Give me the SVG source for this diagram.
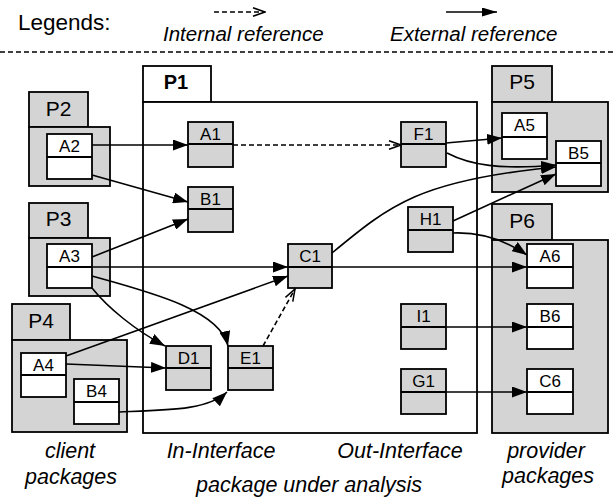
<svg xmlns="http://www.w3.org/2000/svg" width="613" height="499" viewBox="0 0 613 499">
<style>
  .pkg { fill: #d4d4d4; stroke: #000; stroke-width: 1.8; }
  .pkgw { fill: #fff; stroke: #000; stroke-width: 1.8; }
  .cg { fill: #d4d4d4; stroke: #000; stroke-width: 1.8; }
  .cw { fill: #fff; stroke: #000; stroke-width: 1.8; }
  .div { stroke: #000; stroke-width: 1.8; }
  .lbl { font-family: "Liberation Sans", Arial, sans-serif; font-size: 17px; text-anchor: middle; fill: #000; }
  .plbl { font-family: "Liberation Sans", Arial, sans-serif; font-size: 21px; text-anchor: middle; fill: #000; }
  .p1lbl { font-family: "Liberation Sans", Arial, sans-serif; font-size: 20px; font-weight: bold; text-anchor: middle; fill: #000; }
  .cap { font-family: "Liberation Sans", Arial, sans-serif; font-size: 21.5px; font-style: italic; text-anchor: middle; fill: #000; }
  .leg { font-family: "Liberation Sans", Arial, sans-serif; font-size: 20.5px; font-style: italic; fill: #000; }
  .ext { fill: none; stroke: #000; stroke-width: 1.6; marker-end: url(#ah); }
  .int { fill: none; stroke: #000; stroke-width: 1.6; stroke-dasharray: 5 3; marker-end: url(#oh); }
</style>
<defs>
  <marker id="ah" viewBox="0 0 15 11" refX="15" refY="5.5" markerWidth="15" markerHeight="11" markerUnits="userSpaceOnUse" orient="auto">
    <path d="M0,0 L15,5.5 L0,11 z" fill="#000"/>
  </marker>
  <marker id="ahl" viewBox="0 0 15 9" refX="15" refY="4.5" markerWidth="15" markerHeight="9" markerUnits="userSpaceOnUse" orient="auto">
    <path d="M0,0 L15,4.5 L0,9 z" fill="#000"/>
  </marker>
  <marker id="oh" viewBox="0 0 14 10" refX="13" refY="5" markerWidth="14" markerHeight="10" markerUnits="userSpaceOnUse" orient="auto">
    <path d="M1,0.8 L13,5 L1,9.2" fill="none" stroke="#000" stroke-width="1.5"/>
  </marker>
</defs>
<rect width="613" height="499" fill="#fff"/>

<g id="legend">
  <text x="18" y="30" font-family="'Liberation Sans', Arial, sans-serif" font-size="22.5px">Legends:</text>
  <line x1="214" y1="12" x2="265" y2="12" class="int"/>
  <line x1="446" y1="12" x2="497" y2="12" fill="none" stroke="#000" stroke-width="1.6" marker-end="url(#ahl)"/>
  <text x="163" y="41" class="leg">Internal reference</text>
  <text x="390" y="41" class="leg">External reference</text>
  <line x1="0" y1="52" x2="613" y2="52" stroke="#000" stroke-width="1.6" stroke-dasharray="5 3"/>
</g>

<g id="P1">
  <rect x="143" y="66" width="68" height="36" class="pkgw"/>
  <rect x="143" y="102" width="334" height="331" class="pkgw"/>
  <text x="176" y="89" class="p1lbl">P1</text>
</g>
<g id="P2">
  <rect x="29" y="92" width="59" height="35" class="pkg"/>
  <rect x="29" y="127" width="81" height="59" class="pkg"/>
  <text x="58.5" y="116" class="plbl">P2</text>
</g>
<g id="P3">
  <rect x="29" y="203" width="59" height="35" class="pkg"/>
  <rect x="29" y="238" width="81" height="58" class="pkg"/>
  <text x="58.5" y="226" class="plbl">P3</text>
</g>
<g id="P4">
  <rect x="12" y="304" width="58" height="36" class="pkg"/>
  <rect x="12" y="340" width="115" height="92" class="pkg"/>
  <text x="41" y="328" class="plbl">P4</text>
</g>
<g id="P5">
  <rect x="492" y="66" width="60" height="36" class="pkg"/>
  <rect x="492" y="102" width="116" height="90" class="pkg"/>
  <text x="522" y="89" class="plbl">P5</text>
</g>
<g id="P6">
  <rect x="492" y="204" width="60" height="36" class="pkg"/>
  <rect x="492" y="240" width="116" height="193" class="pkg"/>
  <text x="522" y="228" class="plbl">P6</text>
</g>

<g id="A2"><rect x="47" y="134" width="45" height="45" class="cw"/><line x1="47" y1="157" x2="92" y2="157" class="div"/><text x="69.5" y="152" class="lbl">A2</text></g>
<g id="A3"><rect x="47" y="244" width="45" height="44" class="cw"/><line x1="47" y1="267" x2="92" y2="267" class="div"/><text x="69.5" y="262" class="lbl">A3</text></g>
<g id="A4"><rect x="21" y="353" width="45" height="44" class="cw"/><line x1="21" y1="375" x2="66" y2="375" class="div"/><text x="43.5" y="371" class="lbl">A4</text></g>
<g id="B4"><rect x="74" y="379" width="45" height="45" class="cw"/><line x1="74" y1="402" x2="119" y2="402" class="div"/><text x="96.5" y="397" class="lbl">B4</text></g>

<g id="A1"><rect x="188" y="122" width="45" height="45" class="cg"/><line x1="188" y1="144" x2="233" y2="144" class="div"/><text x="210.5" y="140" class="lbl">A1</text></g>
<g id="B1"><rect x="188" y="187" width="45" height="45" class="cg"/><line x1="188" y1="209" x2="233" y2="209" class="div"/><text x="210.5" y="205" class="lbl">B1</text></g>
<g id="C1"><rect x="288" y="244" width="44" height="44" class="cg"/><line x1="288" y1="267" x2="332" y2="267" class="div"/><text x="310" y="262" class="lbl">C1</text></g>
<g id="D1"><rect x="166" y="346" width="45" height="44" class="cg"/><line x1="166" y1="368" x2="211" y2="368" class="div"/><text x="188.5" y="364" class="lbl">D1</text></g>
<g id="E1"><rect x="228" y="346" width="45" height="44" class="cg"/><line x1="228" y1="368" x2="273" y2="368" class="div"/><text x="250.5" y="364" class="lbl">E1</text></g>
<g id="F1"><rect x="401" y="122" width="45" height="45" class="cg"/><line x1="401" y1="144" x2="446" y2="144" class="div"/><text x="423.5" y="140" class="lbl">F1</text></g>
<g id="H1"><rect x="408" y="207" width="45" height="45" class="cg"/><line x1="408" y1="230" x2="453" y2="230" class="div"/><text x="430.5" y="225" class="lbl">H1</text></g>
<g id="I1"><rect x="401" y="304" width="45" height="45" class="cg"/><line x1="401" y1="327" x2="446" y2="327" class="div"/><text x="423.5" y="322" class="lbl">I1</text></g>
<g id="G1"><rect x="401" y="369" width="45" height="45" class="cg"/><line x1="401" y1="392" x2="446" y2="392" class="div"/><text x="423.5" y="387" class="lbl">G1</text></g>

<g id="A5"><rect x="502" y="113" width="45" height="46" class="cw"/><line x1="502" y1="137" x2="547" y2="137" class="div"/><text x="524.5" y="131" class="lbl">A5</text></g>
<g id="B5"><rect x="556" y="141" width="45" height="45" class="cw"/><line x1="556" y1="163" x2="601" y2="163" class="div"/><text x="578.5" y="159" class="lbl">B5</text></g>
<g id="A6"><rect x="527" y="244" width="46" height="44" class="cw"/><line x1="527" y1="267" x2="573" y2="267" class="div"/><text x="550" y="262" class="lbl">A6</text></g>
<g id="B6"><rect x="527" y="304" width="46" height="45" class="cw"/><line x1="527" y1="327" x2="573" y2="327" class="div"/><text x="550" y="322" class="lbl">B6</text></g>
<g id="C6"><rect x="527" y="369" width="46" height="45" class="cw"/><line x1="527" y1="392" x2="573" y2="392" class="div"/><text x="550" y="387" class="lbl">C6</text></g>

<g id="connectors">
  <path d="M92,145 L188,145" class="ext"/>
  <path d="M92,175 L188,202" class="ext"/>
  <path d="M92,257 L188,219" class="ext"/>
  <path d="M92,267 L288,267" class="ext"/>
  <path d="M92,288 C108,308 135,330 165,346" class="ext"/>
  <path d="M92,276 C150,292 220,310 228,346" class="ext"/>
  <path d="M66,356 L288,276" class="ext"/>
  <path d="M66,364 L166,368" class="ext"/>
  <path d="M119,412 C170,410 208,410 227,392" class="ext"/>
  <path d="M263,346 L295,289" class="int"/>
  <path d="M233,145 L401,145" class="int"/>
  <path d="M446,143 L502,138" class="ext"/>
  <path d="M447,153 C470,165 500,170 556,165" class="ext"/>
  <path d="M332,253 C390,205 420,180 556,167" class="ext"/>
  <path d="M453,221 L556,174" class="ext"/>
  <path d="M453,233 C480,232 505,240 527,255" class="ext"/>
  <path d="M332,267 L527,267" class="ext"/>
  <path d="M446,327 L527,327" class="ext"/>
  <path d="M446,392 L527,392" class="ext"/>
</g>

<g id="captions">
  <text x="70" y="458" class="cap">client</text>
  <text x="71" y="484" class="cap">packages</text>
  <text x="221" y="458" class="cap">In-Interface</text>
  <text x="400" y="458" class="cap">Out-Interface</text>
  <text x="309" y="492" class="cap">package under analysis</text>
  <text x="546" y="458" class="cap">provider</text>
  <text x="548" y="483" class="cap">packages</text>
</g>
</svg>
